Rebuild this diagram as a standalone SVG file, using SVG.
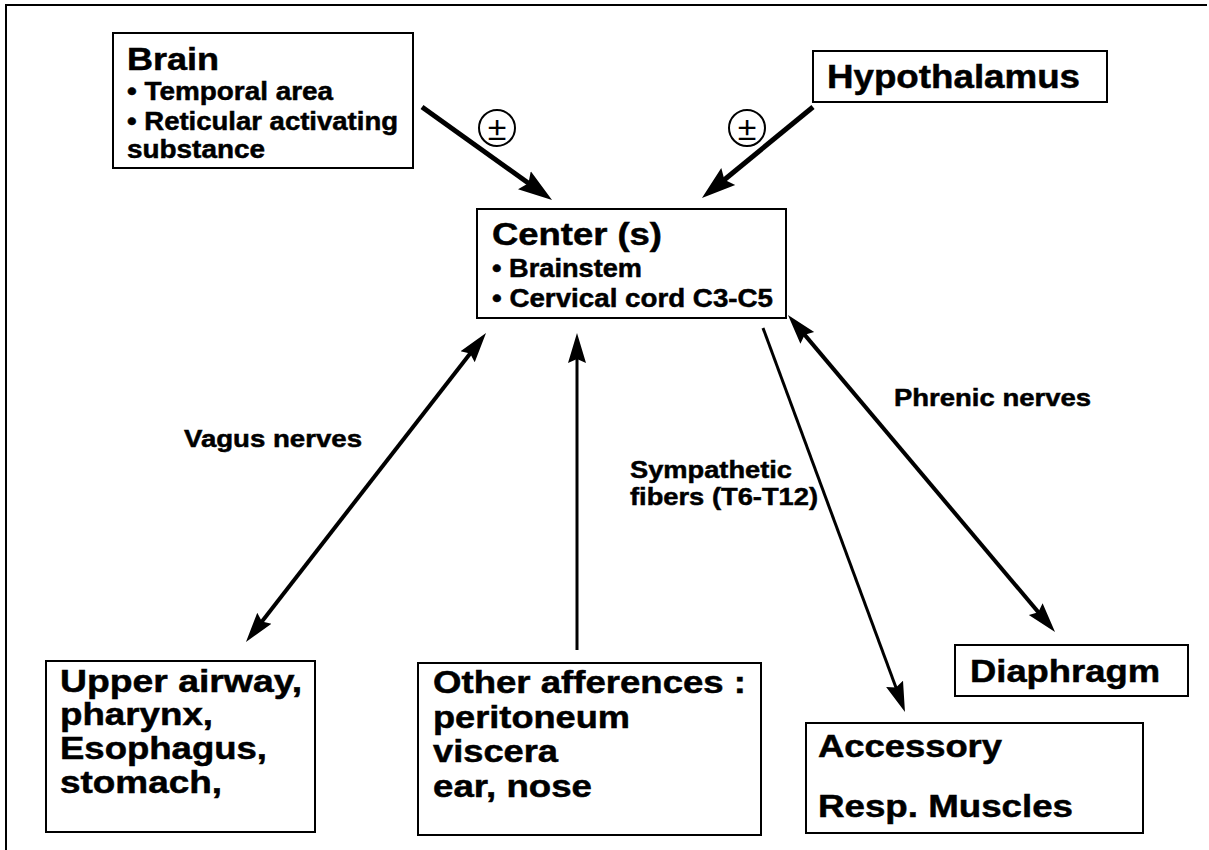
<svg xmlns="http://www.w3.org/2000/svg" width="1209" height="850" viewBox="0 0 1209 850">
<style>
.box{fill:#fff;stroke:#000;stroke-width:2}
.t{font-family:"Liberation Sans",Arial,Helvetica,sans-serif;font-weight:bold;fill:#000;stroke:#000;stroke-width:0.5}
.big{font-size:32px}
.sub{font-size:26px}
.bsub{font-size:25px}
.lbl{font-size:24px}
.c{stroke:#000;fill:none}
.pm{font-family:"Liberation Sans",Arial,sans-serif;font-size:34px;fill:#000;text-anchor:middle}
</style>
<defs>
<marker id="ahL" viewBox="0 0 34 24" refX="24" refY="12" markerWidth="34" markerHeight="24" markerUnits="userSpaceOnUse" orient="auto-start-reverse">
<path d="M0,1 L34,12 L0,23 L5,12 Z" fill="#000"/>
</marker>
<marker id="ah" viewBox="0 0 30 20" refX="20" refY="10" markerWidth="30" markerHeight="20" markerUnits="userSpaceOnUse" orient="auto-start-reverse">
<path d="M0,1 L30,10 L0,19 L4,10 Z" fill="#000"/>
</marker>
</defs>
<rect width="1209" height="850" fill="#fff"/>
<path d="M6,850 L6,5 L1207,5" fill="none" stroke="#000" stroke-width="2"/>

<g id="connectors">
<line class="c" x1="422" y1="107" x2="543.9" y2="194.2" stroke-width="5" marker-end="url(#ahL)"/>
<line class="c" x1="813" y1="107" x2="709.7" y2="191.7" stroke-width="5" marker-end="url(#ahL)"/>
<line class="c" x1="252.1" y1="634.1" x2="479.9" y2="340.9" stroke-width="4" marker-start="url(#ah)" marker-end="url(#ah)"/>
<line class="c" x1="577" y1="650" x2="577" y2="343" stroke-width="3" marker-end="url(#ah)"/>
<line class="c" x1="763" y1="328" x2="901.5" y2="702.6" stroke-width="3" marker-end="url(#ah)"/>
<line class="c" x1="794.4" y1="322.6" x2="1048.6" y2="624.4" stroke-width="4" marker-start="url(#ah)" marker-end="url(#ah)"/>
<g id="pm1">
<circle cx="497" cy="128" r="18" fill="#fff" stroke="#000" stroke-width="2"/>
<text class="pm" x="497" y="140">±</text>
</g>
<g id="pm2">
<circle cx="747" cy="128" r="18" fill="#fff" stroke="#000" stroke-width="2"/>
<text class="pm" x="747" y="140">±</text>
</g>
<text class="t lbl" x="184" y="447" textLength="178" lengthAdjust="spacingAndGlyphs">Vagus nerves</text>
<text class="t lbl" x="894" y="406" textLength="197" lengthAdjust="spacingAndGlyphs">Phrenic nerves</text>
<text class="t lbl" x="630" y="478" textLength="162" lengthAdjust="spacingAndGlyphs">Sympathetic</text>
<text class="t lbl" x="630" y="505" textLength="188" lengthAdjust="spacingAndGlyphs">fibers (T6-T12)</text>
</g>

<g id="brain">
<rect class="box" x="113" y="33" width="300" height="135"/>
<text class="t" style="font-size:31px" x="127" y="70" textLength="92" lengthAdjust="spacingAndGlyphs">Brain</text>
<text class="t bsub" x="127" y="100" textLength="206" lengthAdjust="spacingAndGlyphs">• Temporal area</text>
<text class="t bsub" x="127" y="130" textLength="271" lengthAdjust="spacingAndGlyphs">• Reticular activating</text>
<text class="t bsub" x="127" y="158" textLength="138" lengthAdjust="spacingAndGlyphs">substance</text>
</g>

<g id="hypothalamus">
<rect class="box" x="813" y="51" width="294" height="51"/>
<text class="t" style="font-size:34px" x="827" y="88" textLength="253" lengthAdjust="spacingAndGlyphs">Hypothalamus</text>
</g>

<g id="center">
<rect class="box" x="477" y="209" width="309" height="109"/>
<text class="t big" x="492" y="245" textLength="170" lengthAdjust="spacingAndGlyphs">Center (s)</text>
<text class="t sub" x="492" y="277" textLength="150" lengthAdjust="spacingAndGlyphs">• Brainstem</text>
<text class="t sub" x="492" y="307" textLength="281" lengthAdjust="spacingAndGlyphs">• Cervical cord C3-C5</text>
</g>

<g id="upper-airway">
<rect class="box" x="46" y="661" width="269" height="171"/>
<text class="t big" x="60" y="692" textLength="242" lengthAdjust="spacingAndGlyphs">Upper airway,</text>
<text class="t big" x="60" y="725" textLength="153" lengthAdjust="spacingAndGlyphs">pharynx,</text>
<text class="t big" x="60" y="759" textLength="207" lengthAdjust="spacingAndGlyphs">Esophagus,</text>
<text class="t big" x="60" y="793" textLength="162" lengthAdjust="spacingAndGlyphs">stomach,</text>
</g>

<g id="other-afferences">
<rect class="box" x="418" y="663" width="343" height="172"/>
<text class="t big" x="433" y="693" textLength="313" lengthAdjust="spacingAndGlyphs">Other afferences :</text>
<text class="t big" x="433" y="728" textLength="197" lengthAdjust="spacingAndGlyphs">peritoneum</text>
<text class="t big" x="433" y="762" textLength="125" lengthAdjust="spacingAndGlyphs">viscera</text>
<text class="t big" x="433" y="797" textLength="159" lengthAdjust="spacingAndGlyphs">ear, nose</text>
</g>

<g id="diaphragm">
<rect class="box" x="955" y="645" width="233" height="51"/>
<text class="t big" x="970" y="682" textLength="190" lengthAdjust="spacingAndGlyphs">Diaphragm</text>
</g>

<g id="accessory">
<rect class="box" x="806" y="723" width="337" height="110"/>
<text class="t big" x="818" y="757" textLength="184" lengthAdjust="spacingAndGlyphs">Accessory</text>
<text class="t big" x="818" y="817" textLength="255" lengthAdjust="spacingAndGlyphs">Resp. Muscles</text>
</g>
</svg>
